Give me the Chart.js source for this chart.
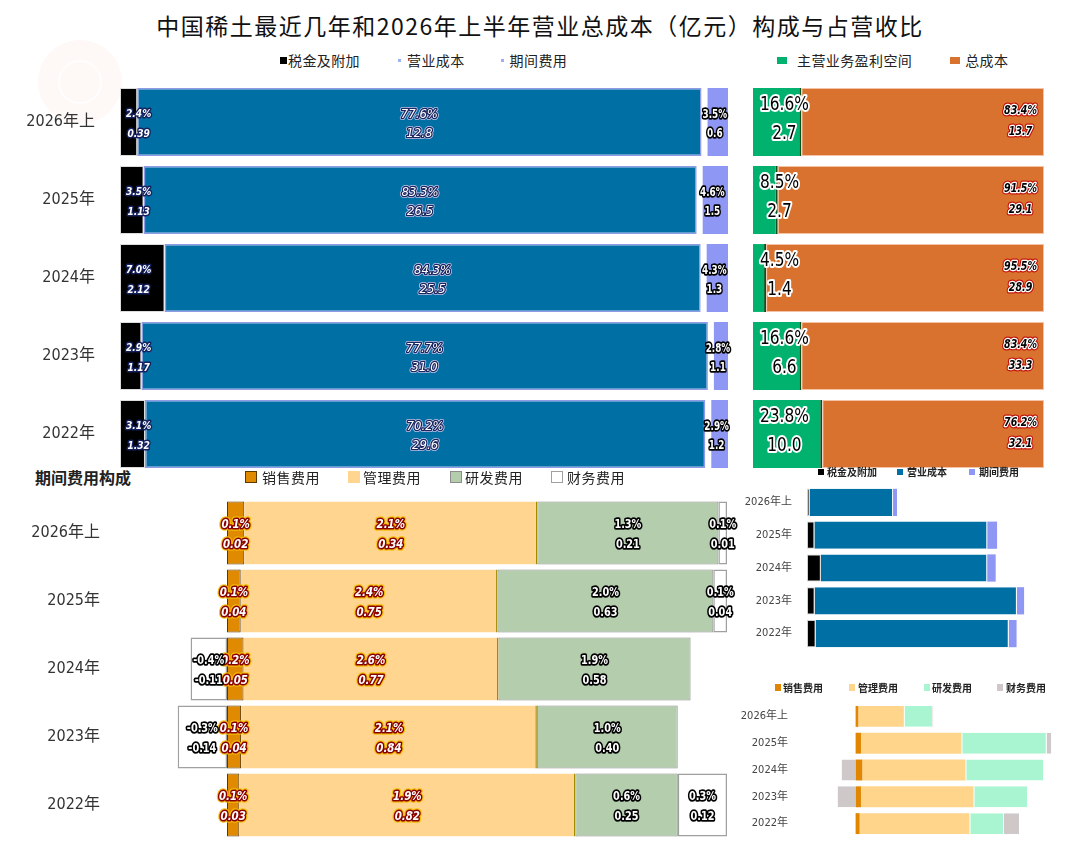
<!DOCTYPE html>
<html>
<head>
<meta charset="utf-8">
<script src="https://cdn.jsdelivr.net/npm/chart.js@4.4.0/dist/chart.umd.min.js"></script>
<style>
  body { margin: 0; background: #fff; width: 1080px; height: 843px; position: relative; overflow: hidden;
         font-family: 'Noto Sans CJK SC', sans-serif; color: #222; }
  canvas { position: absolute; }
  #title { position: absolute; left: 0; width: 1080px; top: 8px; text-align: center; font-size: 23px;
           letter-spacing: 1.5px; line-height: 34px; color: #111; }
  #subTitle { position: absolute; left: 35px; top: 465px; font-size: 16px; font-weight: bold; line-height: 24px; }
  .legend { position: absolute; display: flex; align-items: center; white-space: nowrap; }
  .legend .item { display: flex; align-items: center; }
  .legend .mark { display: inline-block; box-sizing: border-box; }
  .watermark { position: absolute; left: 38px; top: 40px; width: 84px; height: 84px; border-radius: 50%;
               background: rgba(252, 232, 228, 0.3); }
  .watermark::after { content: ''; position: absolute; left: 20px; top: 20px; width: 40px; height: 40px;
               border-radius: 50%; border: 2px solid rgba(255, 255, 255, 0.8); }
</style>
</head>
<body>
<div class="watermark"></div>
<div id="title">中国稀土最近几年和2026年上半年营业总成本（亿元）构成与占营收比</div>
<div id="subTitle">期间费用构成</div>

<canvas id="costShare" width="742" height="390" style="left:0;top:83px"></canvas>
<canvas id="marginShare" width="291" height="390" style="left:753px;top:83px"></canvas>
<canvas id="periodShare" width="742" height="340" style="left:0;top:499px"></canvas>
<canvas id="costAbs" width="338" height="164" style="left:730px;top:486px"></canvas>
<canvas id="periodAbs" width="340" height="134" style="left:730px;top:703px"></canvas>

<div id="legendCost" class="legend"></div>
<div id="legendMargin" class="legend"></div>
<div id="legendPeriod" class="legend"></div>
<div id="legendCostAbs" class="legend"></div>
<div id="legendPeriodAbs" class="legend"></div>

<script>
// DATA
const years = ['2026年上', '2025年', '2024年', '2023年', '2022年'];

// 营业总成本构成（占营收比 %，金额 亿元）
const taxPct = [2.4, 3.5, 7.0, 2.9, 3.1];
const taxAmt = [0.39, 1.13, 2.12, 1.17, 1.32];
const costPct = [77.6, 83.3, 84.3, 77.7, 70.2];
const costAmt = [12.8, 26.5, 25.5, 31.0, 29.6];
const periodPct = [3.5, 4.6, 4.3, 2.8, 2.9];
const periodAmt = [0.6, 1.5, 1.3, 1.1, 1.2];

// 主营业务盈利空间 / 总成本
const marginPct = [16.6, 8.5, 4.5, 16.6, 23.8];
const marginAmt = [2.7, 2.7, 1.4, 6.6, 10.0];
const totalPct = [83.4, 91.5, 95.5, 83.4, 76.2];
const totalAmt = [13.7, 29.1, 28.9, 33.3, 32.1];

// 期间费用构成
const salesPct = [0.1, 0.1, 0.2, 0.1, 0.1];
const salesAmt = [0.02, 0.04, 0.05, 0.04, 0.03];
const adminPct = [2.1, 2.4, 2.6, 2.1, 1.9];
const adminAmt = [0.34, 0.75, 0.77, 0.84, 0.82];
const rdPct = [1.3, 2.0, 1.9, 1.0, 0.6];
const rdAmt = [0.21, 0.63, 0.58, 0.40, 0.25];
const finPct = [0.1, 0.1, -0.4, -0.3, 0.3];
const finAmt = [0.01, 0.04, -0.11, -0.14, 0.12];

const NARROW = "'Liberation Sans Narrow', 'DejaVu Sans Condensed', 'Noto Sans CJK SC', sans-serif";

// share of each row (100% stacked, like excel: by sum of absolute values)
function shares(series) {
  return series.map(arr => arr.map((v, i) => {
    const sum = series.reduce((s, a) => s + Math.abs(a[i]), 0);
    return v / sum * 100;
  }));
}

// TWO LINE LABELS PLUGIN
const barLabels = {
  id: 'barLabels',
  afterDatasetsDraw(chart) {
    const ctx = chart.ctx;
    chart.data.datasets.forEach((ds, di) => {
      const lab = ds.labelCfg;
      if (!lab) return;
      const sx = lab.sx || 1;
      const meta = chart.getDatasetMeta(di);
      meta.data.forEach((bar, i) => {
        const lines = [lab.pct[i].toFixed(1) + '%', lab.amt[i].toFixed(lab.dec)];
        const left = Math.min(bar.x, bar.base);
        const right = Math.max(bar.x, bar.base);
        ctx.save();
        ctx.font = lab.font;
        ctx.textBaseline = 'middle';
        ctx.textAlign = 'center';
        ctx.lineJoin = 'round';
        const w = Math.max(...lines.map(t => ctx.measureText(t).width)) * sx;
        let cx = (left + right) / 2;
        if (lab.align === 'start') cx = left + lab.pad + w / 2;
        if (lab.align === 'end') cx = right - lab.pad - w / 2;
        lines.forEach((t, k) => {
          ctx.save();
          ctx.translate(cx, bar.y + lab.dy[k]);
          ctx.scale(sx, 1);
          lab.strokes.forEach(s => {
            ctx.strokeStyle = s[0];
            ctx.lineWidth = s[1];
            ctx.strokeText(t, 0, 0);
          });
          ctx.fillStyle = lab.color;
          ctx.fillText(t, 0, 0);
          ctx.restore();
        });
        ctx.restore();
      });
    });
  }
};

function hbar(id, datasets, o) {
  return new Chart(document.getElementById(id), {
    type: 'bar',
    data: { labels: years, datasets: datasets },
    options: {
      indexAxis: 'y',
      responsive: false,
      animation: false,
      layout: { padding: { left: 0, top: 0, bottom: 0, right: o.right || 0 } },
      plugins: { legend: { display: false }, tooltip: { enabled: false } },
      datasets: { bar: { categoryPercentage: o.cat, barPercentage: 1, borderSkipped: false } },
      scales: {
        x: { stacked: true, display: false, min: o.min, max: o.max },
        y: {
          stacked: true,
          display: o.yw > 0,
          grid: { display: false },
          border: { display: false },
          ticks: { padding: o.pad, color: o.tickColor, font: o.tickFont },
          afterFit(scale) {
            scale.width = o.yw;
            scale.paddingTop = 0;
            scale.paddingBottom = 0;
          }
        }
      }
    },
    plugins: [barLabels]
  });
}

// HTML LEGEND BUILT FROM CHART DATASETS
function buildLegend(id, chart, spec) {
  const el = document.getElementById(id);
  el.style.left = spec.left + 'px';
  el.style.top = spec.top + 'px';
  el.style.font = spec.font;
  el.style.letterSpacing = spec.spacing || '0px';
  chart.data.datasets.forEach((ds, i) => {
    const m = spec.marks[i];
    const item = document.createElement('span');
    item.className = 'item';
    if (i < chart.data.datasets.length - 1) item.style.marginRight = spec.gaps[i] + 'px';
    const mark = document.createElement('span');
    mark.className = 'mark';
    mark.style.width = m.w + 'px';
    mark.style.height = m.h + 'px';
    mark.style.marginRight = m.gap + 'px';
    mark.style.background = m.color || ds.backgroundColor;
    if (m.border) mark.style.border = m.border;
    const txt = document.createElement('span');
    txt.textContent = ds.label;
    item.appendChild(mark);
    item.appendChild(txt);
    el.appendChild(item);
  });
}

// TOP LEFT: 营业总成本构成
const [taxS, costS, periodS] = shares([taxAmt, costAmt, periodAmt]);
const costShareChart = hbar('costShare', [
  {
    label: '税金及附加', data: taxS, backgroundColor: '#000000',
    borderColor: '#dcdcdc', borderWidth: 1,
    labelCfg: { pct: taxPct, amt: taxAmt, dec: 2, align: 'start', pad: 6, sx: 0.92,
      font: 'italic bold 11px ' + NARROW, color: '#fff', strokes: [['#15205e', 3]], dy: [-7.5, 12] }
  },
  {
    label: '营业成本', data: costS, backgroundColor: '#0070A4',
    borderColor: '#8E9CE8', borderWidth: 1.5,
    labelCfg: { pct: costPct, amt: costAmt, dec: 1, align: 'center',
      font: 'italic 13px ' + NARROW, color: '#fff', strokes: [['#c8cdf0', 4], ['#1a2660', 2.5]], dy: [-7.5, 12] }
  },
  {
    label: '期间费用', data: periodS, backgroundColor: '#8F97F5',
    borderColor: '#ffffff', borderWidth: { left: 6, right: 0, top: 0, bottom: 0 },
    labelCfg: { pct: periodPct, amt: periodAmt, dec: 1, align: 'center', sx: 0.82,
      font: 'bold 12px ' + NARROW, color: '#fff', strokes: [['#000', 3.5]], dy: [-7.5, 12] }
  }
], { cat: 0.87, min: 0, max: 100, yw: 120, pad: 17, right: 14, tickColor: '#333',
     tickFont: { family: NARROW, size: 16 } });

// TOP RIGHT: 主营业务盈利空间 vs 总成本
const marginChart = hbar('marginShare', [
  {
    label: '主营业务盈利空间', data: marginPct, backgroundColor: '#00B26E',
    borderColor: '#0B4F1F', borderWidth: { left: 0, right: 2, top: 0, bottom: 0 },
    labelCfg: { pct: marginPct, amt: marginAmt, dec: 1, align: 'start', pad: 7, sx: 0.9,
      font: '19px ' + NARROW, color: '#000', strokes: [['#fff', 4]], dy: [-16.5, 12.5] }
  },
  {
    label: '总成本', data: totalPct, backgroundColor: '#D9722E',
    borderColor: '#F4C3A6', borderWidth: 1,
    labelCfg: { pct: totalPct, amt: totalAmt, dec: 1, align: 'end', pad: 7, sx: 0.88,
      font: 'italic bold 12px ' + NARROW, color: '#000', strokes: [['rgba(190,0,0,0.85)', 5], ['#fff', 2.5]], dy: [-11.5, 9.5] }
  }
], { cat: 0.87, min: 0, max: 100, yw: 0 });

// BOTTOM LEFT: 期间费用构成
const [salesS, adminS, rdS, finS] = shares([salesAmt, adminAmt, rdAmt, finAmt]);
const redLabel = { font: 'italic bold 12px ' + NARROW, color: '#fff', sx: 0.95,
  strokes: [['rgba(245,190,0,0.9)', 5.5], ['#8A0000', 3]], dy: [-8, 12] };
const blackLabel = { font: 'bold 12px ' + NARROW, color: '#fff', sx: 0.9, strokes: [['#000', 3.5]], dy: [-8, 12] };
const periodChart = hbar('periodShare', [
  {
    label: '销售费用', data: salesS, backgroundColor: '#DF8A00',
    borderColor: '#5B3A00', borderWidth: 1,
    labelCfg: Object.assign({ pct: salesPct, amt: salesAmt, dec: 2, align: 'center' }, redLabel)
  },
  {
    label: '管理费用', data: adminS, backgroundColor: '#FFD590',
    borderColor: '#A08A00', borderWidth: { left: 0, right: 1.5, top: 0, bottom: 0 },
    labelCfg: Object.assign({ pct: adminPct, amt: adminAmt, dec: 2, align: 'center' }, redLabel)
  },
  {
    label: '研发费用', data: rdS, backgroundColor: '#B4CEAD',
    borderColor: '#8C8C8C', borderWidth: 1,
    labelCfg: Object.assign({ pct: rdPct, amt: rdAmt, dec: 2, align: 'center' }, blackLabel)
  },
  {
    label: '财务费用', data: finS, backgroundColor: '#FFFFFF',
    borderColor: '#A0A0A0', borderWidth: 1.5,
    labelCfg: Object.assign({ pct: finPct, amt: finAmt, dec: 2, align: 'center' }, blackLabel)
  }
], { cat: 0.93, min: -20, max: 100, yw: 127, pad: 19, right: 15, tickColor: '#333',
     tickFont: { family: NARROW, size: 16 } });

// BOTTOM RIGHT: absolute values
const costAbsChart = hbar('costAbs', [
  { label: '税金及附加', data: taxAmt, backgroundColor: '#000000', borderColor: '#cfcfcf', borderWidth: 1 },
  { label: '营业成本', data: costAmt, backgroundColor: '#0070A4', borderColor: '#ffffff', borderWidth: { left: 0, right: 1, top: 0, bottom: 0 } },
  { label: '期间费用', data: periodAmt, backgroundColor: '#8F97F5', borderWidth: 0 }
], { cat: 0.83, min: 0, max: 40, yw: 77, pad: 7, tickColor: '#444',
     tickFont: { family: NARROW, size: 11 } });

const periodAbsChart = hbar('periodAbs', [
  { label: '销售费用', data: salesAmt, backgroundColor: '#E08600', borderWidth: 0 },
  { label: '管理费用', data: adminAmt, backgroundColor: '#FFD58C', borderWidth: 0 },
  { label: '研发费用', data: rdAmt, backgroundColor: '#A9F5D1', borderColor: '#ffffff', borderWidth: { left: 1, right: 0, top: 0, bottom: 0 } },
  { label: '财务费用', data: finAmt, backgroundColor: '#CEC8C9', borderColor: '#ffffff', borderWidth: { left: 1, right: 0, top: 0, bottom: 0 } }
], { cat: 0.78, min: -0.4, max: 1.6, yw: 72, pad: 6, tickColor: '#444',
     tickFont: { family: NARROW, size: 11 } });

// LEGENDS
buildLegend('legendCost', costShareChart, {
  left: 280, top: 50, font: '14px "Noto Sans CJK SC"', spacing: '0.4px', gaps: [38, 36],
  marks: [{ w: 7, h: 7, gap: 1 }, { w: 3, h: 3, gap: 6, color: '#9db2f0' }, { w: 3, h: 3, gap: 6, color: '#a4aaf7' }]
});
buildLegend('legendMargin', marginChart, {
  left: 777, top: 50, font: '14px "Noto Sans CJK SC"', spacing: '0.4px', gaps: [38],
  marks: [{ w: 10, h: 7, gap: 10 }, { w: 10, h: 7, gap: 5 }]
});
buildLegend('legendPeriod', periodChart, {
  left: 245, top: 467, font: '14px "Noto Sans CJK SC"', spacing: '0.5px', gaps: [28, 29, 28],
  marks: [{ w: 12, h: 12, gap: 5, border: '1px solid #5B3A00' }, { w: 12, h: 12, gap: 3 },
          { w: 12, h: 12, gap: 3, border: '1px solid #8C8C8C' }, { w: 12, h: 12, gap: 4, border: '1px solid #A0A0A0' }]
});
buildLegend('legendCostAbs', costAbsChart, {
  left: 818, top: 464, font: 'bold 10px "Noto Sans CJK SC"', gaps: [20, 22],
  marks: [{ w: 6, h: 6, gap: 3 }, { w: 6, h: 6, gap: 4 }, { w: 6, h: 6, gap: 4 }]
});
buildLegend('legendPeriodAbs', periodAbsChart, {
  left: 775, top: 680, font: 'bold 10px "Noto Sans CJK SC"', gaps: [26, 26, 25],
  marks: [{ w: 6, h: 7, gap: 2 }, { w: 6, h: 7, gap: 3 }, { w: 6, h: 7, gap: 2 }, { w: 6, h: 7, gap: 3 }]
});
</script>
</body>
</html>
